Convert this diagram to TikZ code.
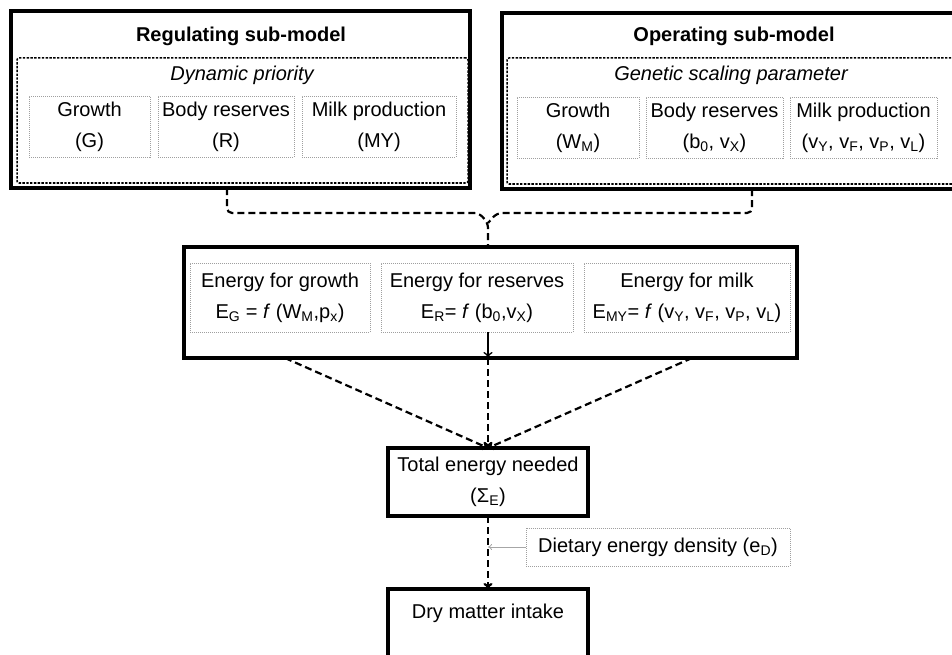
\documentclass[tikz,border=0pt]{standalone}
\usepackage{fontspec}
\setmainfont{Liberation Sans}
\usetikzlibrary{arrows.meta}
\begin{document}
\begin{tikzpicture}[x=1pt,y=-1pt,
  every node/.style={font=\fontsize{20}{31}\selectfont, inner sep=0pt, outer sep=0pt, align=center},
  heavybox/.style={draw=black, line width=3.3pt,
    append after command={[draw=gray!60, line width=1.3pt]
      ([xshift=2.3pt,yshift=-2.3pt]\tikzlastnode.north west) rectangle
      ([xshift=-2.3pt,yshift=2.3pt]\tikzlastnode.south east)}},
  dashbox/.style={draw=black, line width=1.5pt, dash pattern=on 2.4pt off 1.4pt, rounded corners=2pt},
  dotbox/.style={draw=gray!75, line width=0.8pt, dash pattern=on 1pt off 1pt},
  conn/.style={draw=black, line width=2.2pt, dash pattern=on 7pt off 4pt},
  arrowhd/.style={-{To[length=6pt,width=9pt]}}]
\useasboundingbox (0,0) rectangle (952,655);

% top boxes
\node[heavybox, minimum width=459, minimum height=177] (reg) at (240.5,99.5) {};
\node[heavybox, minimum width=460, minimum height=176] (op) at (732,101) {};
\node[dashbox, minimum width=451, minimum height=125] (regin) at (242.5,120.5) {};
\node[dashbox, minimum width=450, minimum height=126] (opin) at (732,121) {};

\node[anchor=base, font=\fontsize{20}{31}\selectfont\bfseries] (regt) at (241,42) {Regulating sub-model};
\node[anchor=base, font=\fontsize{20}{31}\selectfont\bfseries] (opt) at (734,42) {Operating sub-model};
\node[anchor=base, font=\fontsize{20}{31}\selectfont\itshape] (regs) at (242,81) {Dynamic priority};
\node[anchor=base, font=\fontsize{20}{31}\selectfont\itshape] (ops) at (731,81) {Genetic scaling parameter};

\node[dotbox, minimum width=121, minimum height=61] (rg) at (89.5,126.5) {Growth\\(G)};
\node[dotbox, minimum width=136, minimum height=61] (rb) at (226,126.5) {Body reserves\\(R)};
\node[dotbox, minimum width=154, minimum height=61] (rm) at (379,126.5) {Milk production\\(MY)};

\node[dotbox, minimum width=122, minimum height=61] (og) at (578,127.5) {Growth\\(W\textsubscript{M})};
\node[dotbox, minimum width=137, minimum height=61] (ob) at (714.5,127.5) {Body reserves\\(b\textsubscript{0}, v\textsubscript{X})};
\node[dotbox, minimum width=147, minimum height=61] (om) at (863.5,127.5) {Milk production\\(v\textsubscript{Y}, v\textsubscript{F}, v\textsubscript{P}, v\textsubscript{L})};

% middle box
\node[heavybox, minimum width=613, minimum height=111] (mid) at (490.5,302.5) {};
\node[dotbox, minimum width=180, minimum height=69] (eg) at (280,297.5) {Energy for growth\\E\textsubscript{G} = \textit{f} (W\textsubscript{M},p\textsubscript{x})};
\node[dotbox, minimum width=192, minimum height=69] (er) at (477,297.5) {Energy for reserves\\E\textsubscript{R}= \textit{f} (b\textsubscript{0},v\textsubscript{X})};
\node[dotbox, minimum width=206, minimum height=69] (em) at (687,297.5) {Energy for milk\\E\textsubscript{MY}= \textit{f} (v\textsubscript{Y}, v\textsubscript{F}, v\textsubscript{P}, v\textsubscript{L})};

% lower boxes
\node[heavybox, minimum width=200, minimum height=68] (tot) at (488,482) {Total energy needed\\(Σ\textsubscript{E})};
\node[dotbox, minimum width=264, minimum height=38] (diet) at (658,547) {Dietary energy density (e\textsubscript{D})};
\node[heavybox, minimum width=200, minimum height=95, anchor=north, text height=14.6pt, text depth=50pt] (dry) at (488,589) {Dry matter intake};

% coordinates
\coordinate (xl) at (227,0);
\coordinate (xr) at (752,0);
\coordinate (jn) at (488,213);
\coordinate (jv) at (488,223);
\coordinate (xa) at (285,0);
\coordinate (xc) at (488,0);
\coordinate (xb) at (692,0);

% connectors
\draw[conn, rounded corners=5pt] (reg.south -| xl) -- (xl |- jn) -- (479,213) -- (jv) -- (mid.north -| jv);
\draw[conn, rounded corners=5pt] (op.south -| xr) -- (xr |- jn) -- (497,213) -- (jv);

\draw[line width=1.3pt, arrowhd] (er.south -| xc) -- (mid.south -| xc);
\draw[conn, arrowhd] (mid.south -| xa) -- (tot.north);
\draw[conn, arrowhd] (mid.south -| xc) -- (tot.north);
\draw[conn, arrowhd] (mid.south -| xb) -- (tot.north);
\draw[conn, arrowhd] (tot.south) -- (dry.north);
\draw[draw=gray!70, line width=0.8pt, -{To[length=4pt,width=6pt]}] (diet.west) -- (tot.south |- diet.west);
\end{tikzpicture}
\end{document}
